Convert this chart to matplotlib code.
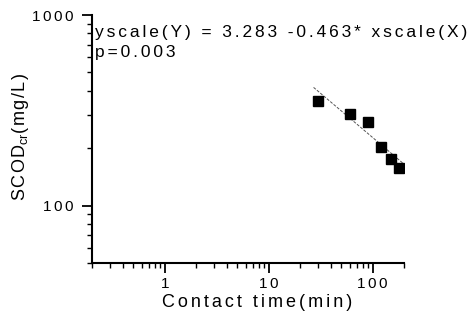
import numpy as np
import matplotlib.pyplot as plt
from matplotlib.ticker import LogLocator, NullFormatter, FixedLocator, FixedFormatter

plt.rcParams['font.family'] = ['Liberation Sans', 'DejaVu Sans']

# data
time_min = [30, 60, 90, 120, 150, 180]
scod = [353, 304, 275, 204, 176, 157]
fit_a = 3.283
fit_b = -0.463
fit_range = [27, 195]
xticks = [1, 10, 100]
yticks = [100, 1000]

HAIR = '\u200a'
SIXTH = '\u2006'


def spaced(s, sep=SIXTH):
    # the original uses wide letter spacing
    return sep.join(s)


fig = plt.figure(figsize=(4.68, 3.25), dpi=100)
ax = fig.add_axes([0.1966, 0.1908, 0.6667, 0.763])

ax.set_xscale('log')
ax.set_yscale('log')
ax.set_xlim(0.2, 200)
ax.set_ylim(50, 1000)

xf = np.array(fit_range, dtype=float)
yf = 10 ** (fit_a + fit_b * np.log10(xf))
ax.plot(xf, yf, color='#555555', lw=0.7, ls=(0, (3, 1.5)))
ax.plot(time_min, scod, 's', color='black', ms=7, mec='black')

ax.spines['top'].set_visible(False)
ax.spines['right'].set_visible(False)
ax.spines['left'].set_linewidth(1.5)
ax.spines['bottom'].set_linewidth(1.5)

ax.xaxis.set_major_locator(FixedLocator(xticks))
ax.xaxis.set_major_formatter(FixedFormatter([spaced(str(v)) for v in xticks]))
ax.xaxis.set_minor_locator(LogLocator(base=10, subs=np.arange(2, 10)))
ax.xaxis.set_minor_formatter(NullFormatter())
ax.yaxis.set_major_locator(FixedLocator(yticks))
ax.yaxis.set_major_formatter(FixedFormatter([spaced(str(v)) for v in yticks]))
ax.yaxis.set_minor_locator(LogLocator(base=10, subs=np.arange(2, 10)))
ax.yaxis.set_minor_formatter(NullFormatter())

ax.tick_params(which='major', direction='out', length=7.2, width=1.3, labelsize=11)
ax.tick_params(axis='y', which='major', pad=6)
ax.tick_params(axis='x', which='major', pad=3)
ax.tick_params(which='minor', direction='out', length=3.6, width=1.0)

ax.set_xlabel(spaced('Contact time(min)'), fontsize=13, va='baseline')
ax.xaxis.set_label_coords(0.53, -0.177)
ax.set_ylabel(spaced('SCOD', HAIR) + '$_{\\mathregular{cr}}$' + spaced('(mg/L)', HAIR),
              fontsize=13, va='center', ha='center')
ax.yaxis.set_label_coords(-0.23, 0.51)

fig.text(95 / 468, 1 - 37 / 325, spaced('yscale(Y) = 3.283 -0.463* xscale(X)'),
         fontsize=12.5, va='baseline', ha='left')
fig.text(95 / 468, 1 - 57 / 325, spaced('p=0.003'),
         fontsize=12.5, va='baseline', ha='left')

fig.savefig('out.png', dpi=100)
